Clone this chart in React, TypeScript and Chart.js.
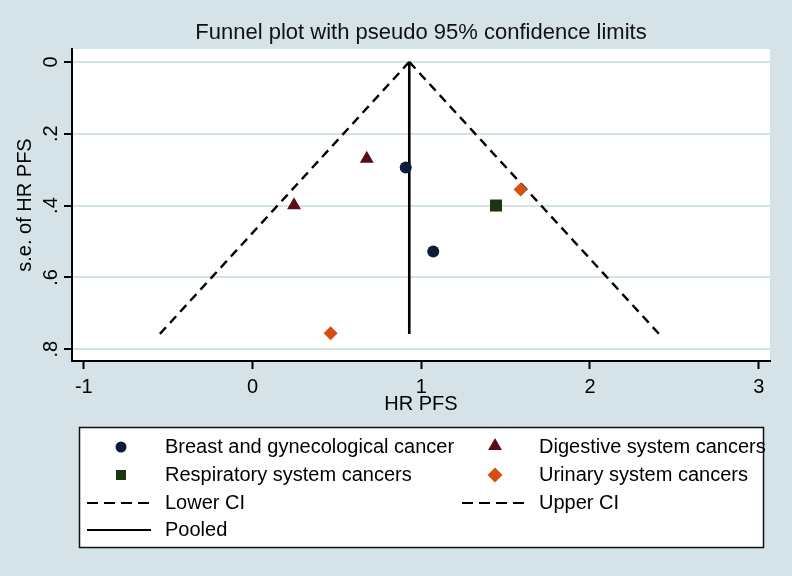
import React, { useEffect, useRef } from "react";
import { Chart, registerables } from "chart.js";

Chart.register(...registerables);

// ---- data ----
const X_TICKS = [-1, 0, 1, 2, 3];
const Y_TICKS = [0, 0.2, 0.4, 0.6, 0.8];
const Y_TICK_LABELS = ["0", ".2", ".4", ".6", ".8"];

const breastHR = [0.908, 1.071];
const breastSE = [0.294, 0.528];
const digestiveHR = [0.677, 0.246];
const digestiveSE = [0.27, 0.399];
const respiratoryHR = [1.443];
const respiratorySE = [0.4];
const urinaryHR = [1.589, 0.463];
const urinarySE = [0.355, 0.756];

const pooledHR = 0.929;
const seMax = 0.758;
const lowerCIAtMax = -0.55;
const upperCIAtMax = 2.41;

const TITLE = "Funnel plot with pseudo 95% confidence limits";
const X_TITLE = "HR PFS";
const Y_TITLE = "s.e. of HR PFS";

const LEGEND_LABELS = [
  "Breast and gynecological cancer",
  "Digestive system cancers",
  "Respiratory system cancers",
  "Urinary system cancers",
  "Lower CI",
  "Upper CI",
  "Pooled",
];

// ---- styles ----
const FONT = "'Liberation Sans', Arial, sans-serif";
const BG = "#d5e2e8";
const GRID = "#d3e3ea";
const C_BREAST = "#0e1c3c";
const C_DIGEST = "#5a0d12";
const C_RESP = "#1c3512";
const C_URIN = "#d4500f";

const zip = (xs: number[], ys: number[]) => xs.map((x, i) => ({ x, y: ys[i] }));

function drawMarker(ctx: CanvasRenderingContext2D, kind: string, x: number, y: number, color: string) {
  ctx.save();
  ctx.fillStyle = color;
  ctx.beginPath();
  if (kind === "circle") {
    ctx.arc(x, y, 5.5, 0, Math.PI * 2);
  } else if (kind === "triangle") {
    const r = 8;
    ctx.moveTo(x, y - r);
    ctx.lineTo(x + r * 0.866, y + r / 2);
    ctx.lineTo(x - r * 0.866, y + r / 2);
    ctx.closePath();
  } else if (kind === "rect") {
    ctx.rect(x - 5, y - 5, 10, 10);
  } else if (kind === "diamond") {
    const r = 7.5;
    ctx.moveTo(x, y - r);
    ctx.lineTo(x + r, y);
    ctx.lineTo(x, y + r);
    ctx.lineTo(x - r, y);
    ctx.closePath();
  }
  ctx.fill();
  ctx.restore();
}

const customPlugin = {
  id: "custom",
  beforeDraw(chart: any) {
    const { ctx, chartArea } = chart;
    ctx.save();
    ctx.fillStyle = BG;
    ctx.fillRect(0, 0, chart.width, chart.height);
    ctx.fillStyle = "#ffffff";
    ctx.fillRect(chartArea.left, chartArea.top, chartArea.right - chartArea.left, chartArea.bottom - chartArea.top);
    ctx.restore();
  },
  afterDraw(chart: any) {
    const { ctx } = chart;
    const yScale = chart.scales.y;
    // rotated y tick labels
    ctx.save();
    ctx.fillStyle = "#000";
    ctx.font = `20px ${FONT}`;
    ctx.textAlign = "center";
    ctx.textBaseline = "middle";
    Y_TICKS.forEach((v, i) => {
      const py = yScale.getPixelForValue(v);
      ctx.save();
      ctx.translate(51, py);
      ctx.rotate(-Math.PI / 2);
      ctx.fillText(Y_TICK_LABELS[i], 0, 0);
      ctx.restore();
    });
    ctx.restore();

    // legend
    const bx = 79.5, by = 427.5, bw = 684, bh = 120;
    ctx.save();
    ctx.fillStyle = "#ffffff";
    ctx.fillRect(bx, by, bw, bh);
    ctx.lineWidth = 1.5;
    ctx.strokeStyle = "#111";
    ctx.strokeRect(bx, by, bw, bh);

    const rows = [447, 475, 503, 530];
    const col1Mark = 121, col1Text = 165, col2Mark = 495, col2Text = 539;
    ctx.font = `20px ${FONT}`;
    ctx.fillStyle = "#000";
    ctx.textAlign = "left";
    ctx.textBaseline = "middle";

    drawMarker(ctx, "circle", col1Mark, rows[0], C_BREAST);
    ctx.fillText(LEGEND_LABELS[0], col1Text, rows[0]);
    drawMarker(ctx, "triangle", col2Mark, rows[0] - 1, C_DIGEST);
    ctx.fillText(LEGEND_LABELS[1], col2Text, rows[0]);
    drawMarker(ctx, "rect", col1Mark, rows[1], C_RESP);
    ctx.fillText(LEGEND_LABELS[2], col1Text, rows[1]);
    drawMarker(ctx, "diamond", col2Mark, rows[1], C_URIN);
    ctx.fillText(LEGEND_LABELS[3], col2Text, rows[1]);

    ctx.strokeStyle = "#000";
    ctx.lineWidth = 2.2;
    ctx.setLineDash([11, 6]);
    ctx.beginPath();
    ctx.moveTo(87, rows[2]);
    ctx.lineTo(151, rows[2]);
    ctx.moveTo(462, rows[2]);
    ctx.lineTo(526, rows[2]);
    ctx.stroke();
    ctx.setLineDash([]);
    ctx.beginPath();
    ctx.moveTo(87, rows[3]);
    ctx.lineTo(151, rows[3]);
    ctx.stroke();
    ctx.fillText(LEGEND_LABELS[4], col1Text, rows[2]);
    ctx.fillText(LEGEND_LABELS[5], col2Text, rows[2]);
    ctx.fillText(LEGEND_LABELS[6], col1Text, rows[3]);
    ctx.restore();
  },
};

export default function App() {
  const canvasRef = useRef<HTMLCanvasElement | null>(null);

  useEffect(() => {
    const canvas = canvasRef.current;
    if (!canvas) return;
    const chart = new Chart(canvas, {
      type: "scatter",
      data: {
        datasets: [
          {
            label: LEGEND_LABELS[0],
            data: zip(breastHR, breastSE),
            pointStyle: "circle",
            pointRadius: 6,
            backgroundColor: C_BREAST,
            borderColor: C_BREAST,
            borderWidth: 0,
          },
          {
            label: LEGEND_LABELS[1],
            data: zip(digestiveHR, digestiveSE),
            pointStyle: "triangle",
            pointRadius: 8,
            backgroundColor: C_DIGEST,
            borderColor: C_DIGEST,
            borderWidth: 0,
          },
          {
            label: LEGEND_LABELS[2],
            data: zip(respiratoryHR, respiratorySE),
            pointStyle: "rect",
            pointRadius: 8.5,
            backgroundColor: C_RESP,
            borderColor: C_RESP,
            borderWidth: 0,
          },
          {
            label: LEGEND_LABELS[3],
            data: zip(urinaryHR, urinarySE),
            pointStyle: "rectRot",
            pointRadius: 7,
            backgroundColor: C_URIN,
            borderColor: C_URIN,
            borderWidth: 0,
          },
          {
            label: LEGEND_LABELS[4],
            data: [
              { x: pooledHR, y: 0 },
              { x: lowerCIAtMax, y: seMax },
            ],
            showLine: true,
            pointRadius: 0,
            borderColor: "#000",
            borderWidth: 2.4,
            borderDash: [9, 6],
          },
          {
            label: LEGEND_LABELS[5],
            data: [
              { x: pooledHR, y: 0 },
              { x: upperCIAtMax, y: seMax },
            ],
            showLine: true,
            pointRadius: 0,
            borderColor: "#000",
            borderWidth: 2.4,
            borderDash: [9, 6],
          },
          {
            label: LEGEND_LABELS[6],
            data: [
              { x: pooledHR, y: 0 },
              { x: pooledHR, y: seMax },
            ],
            showLine: true,
            pointRadius: 0,
            borderColor: "#000",
            borderWidth: 2.6,
          },
        ],
      },
      options: {
        animation: false,
        responsive: false,
        events: [],
        layout: { padding: { left: 0, right: 22, top: 0, bottom: 160 } },
        plugins: {
          legend: { display: false },
          tooltip: { enabled: false },
          title: {
            display: true,
            text: TITLE,
            fullSize: false,
            color: "#111",
            font: { family: FONT, size: 22, weight: "normal" },
            padding: { top: 20, bottom: 2.6 },
          },
        },
        scales: {
          x: {
            type: "linear",
            min: -1.07,
            max: 3.067,
            afterFit: (s: any) => {
              s.height = 55;
            },
            afterBuildTicks: (s: any) => {
              s.ticks = X_TICKS.map((v) => ({ value: v }));
            },
            grid: {
              drawOnChartArea: false,
              drawTicks: true,
              tickLength: 8,
              tickColor: "#000",
              tickWidth: 2,
            },
            border: { display: true, color: "#000", width: 2 },
            ticks: {
              color: "#000",
              padding: 6,
              font: { family: FONT, size: 20 },
              callback: (v: any) => String(v),
            },
            title: {
              display: true,
              text: X_TITLE,
              color: "#000",
              font: { family: FONT, size: 20 },
              padding: { top: 0, bottom: 0 },
            },
          },
          y: {
            type: "linear",
            reverse: true,
            min: -0.036,
            max: 0.833,
            afterFit: (s: any) => {
              s.width = 72;
            },
            afterBuildTicks: (s: any) => {
              s.ticks = Y_TICKS.map((v) => ({ value: v }));
            },
            grid: {
              color: GRID,
              lineWidth: 2,
              drawTicks: true,
              tickLength: 8,
              tickColor: "#000",
              tickWidth: 2,
            },
            border: { display: true, color: "#000", width: 2 },
            ticks: { display: false },
            title: {
              display: true,
              text: Y_TITLE,
              color: "#000",
              font: { family: FONT, size: 20 },
              padding: { top: 13, bottom: 0 },
            },
          },
        },
      },
      plugins: [customPlugin],
    });
    return () => chart.destroy();
  }, []);

  return (
    <div style={{ position: "absolute", left: 0, top: 0, width: 792, height: 576 }}>
      <canvas ref={canvasRef} width={792} height={576} style={{ display: "block" }} />
    </div>
  );
}
